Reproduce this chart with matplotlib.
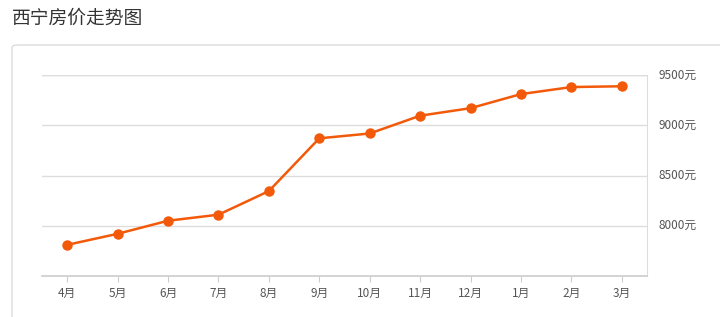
import matplotlib
matplotlib.use("Agg")
import matplotlib.pyplot as plt
from matplotlib.patches import FancyBboxPatch

plt.rcParams['font.family'] = ['Noto Sans CJK SC', 'DejaVu Sans']

title = "西宁房价走势图"
months = ["4月", "5月", "6月", "7月", "8月", "9月", "10月", "11月", "12月", "1月", "2月", "3月"]
prices = [7810, 7920, 8050, 8110, 8345, 8870, 8918, 9095, 9170, 9310, 9380, 9388]
yticks = [8000, 8500, 9000, 9500]

line_color = "#f25a0a"

fig = plt.figure(figsize=(7.2, 3.17), dpi=100)

# outer card frame
card = FancyBboxPatch((12 / 720, -0.2), 1.0, 1 - 45 / 317 + 0.2,
                      boxstyle="round,pad=0,rounding_size=0.008",
                      transform=fig.transFigure, facecolor="white",
                      edgecolor="#dcdcdc", linewidth=1.0, zorder=-5)
fig.patches.append(card)

fig.text(12 / 720, 1 - 18 / 317, title, fontsize=13.5, color="#333333",
         va="center", ha="left")

ax = fig.add_axes([42 / 720, 1 - 276 / 317, (647 - 42) / 720, (276 - 75) / 317])
ax.set_facecolor("none")
ax.set_zorder(2)

x = list(range(len(months)))
ax.plot(x, prices, color=line_color, linewidth=1.8, marker="o",
        markersize=6.5, markerfacecolor=line_color, markeredgecolor=line_color,
        zorder=3, clip_on=False)

ax.set_xlim(-0.5, len(months) - 0.5)
ax.set_ylim(7500, 9500)
ax.set_xticks(x)
ax.set_xticklabels(months)
ax.set_yticks(yticks)
ax.set_yticklabels([f"{v}元" for v in yticks])

ax.yaxis.tick_right()
ax.grid(axis="y", color="#dddddd", linewidth=1.0)
ax.axhline(9500, color="#dddddd", linewidth=1.0)
ax.set_axisbelow(True)

for side in ["top", "left"]:
    ax.spines[side].set_visible(False)
ax.spines["right"].set_color("#dddddd")
ax.spines["bottom"].set_color("#cccccc")
ax.spines["bottom"].set_linewidth(1.2)

ax.tick_params(axis="x", length=4, color="#cccccc", labelsize=8.5,
               labelcolor="#555555", pad=4)
ax.tick_params(axis="y", length=0, labelsize=8.5, labelcolor="#555555", pad=8)
for lbl in ax.get_yticklabels():
    lbl.set_verticalalignment("center")

fig.savefig("out.png", dpi=100)
